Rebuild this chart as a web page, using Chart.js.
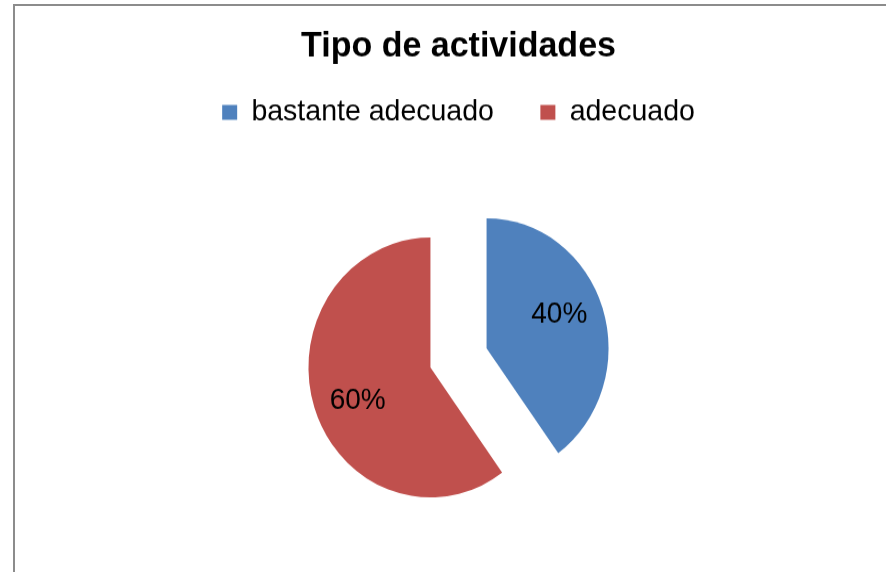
<!DOCTYPE html>
<html lang="es">
<head>
<meta charset="UTF-8">
<title>Tipo de actividades</title>
<script src="https://cdn.jsdelivr.net/npm/chart.js@4.4.0/dist/chart.umd.min.js"></script>
<style>
  html, body { margin: 0; padding: 0; background: #fff; overflow: hidden; width: 886px; height: 572px; }
  .frame { position: absolute; left: 13px; top: 4px; width: 1000px; height: 1000px;
           border-left: 2px solid #8c8c8c; border-top: 2px solid #8c8c8c; }
  /* the original picture is a little stretched vertically */
  .wrap { position: absolute; left: 0; top: 0; transform: scaleY(1.065); transform-origin: 0 0; }
</style>
</head>
<body>
<div class="frame"></div>
<div class="wrap"><canvas id="pie" width="917" height="600"></canvas></div>
<script>
const categories = ['bastante adecuado', 'adecuado'];
const values = [40, 60];

const FONT = '"Liberation Sans", Arial, sans-serif';
const EXPLODE = 29.5;

// pull every slice away from the centre by the same distance (like Excel's explode)
const explodeSlices = {
  id: 'explodeSlices',
  afterDatasetsUpdate(chart) {
    chart.getDatasetMeta(0).data.forEach(arc => {
      const mid = (arc.startAngle + arc.endAngle) / 2;
      arc.x += Math.cos(mid) * EXPLODE;
      arc.y += Math.sin(mid) * EXPLODE;
    });
  }
};

// percentage labels inside each slice
const pctLabels = {
  id: 'pctLabels',
  afterDatasetsDraw(chart) {
    const ctx = chart.ctx;
    const total = values.reduce((a, b) => a + b, 0);
    ctx.save();
    ctx.font = '28px ' + FONT;
    ctx.fillStyle = '#000';
    ctx.textAlign = 'center';
    ctx.textBaseline = 'middle';
    chart.getDatasetMeta(0).data.forEach((arc, i) => {
      const a = (arc.startAngle + arc.endAngle) / 2 - 0.095;
      const d = arc.outerRadius * 0.65;
      ctx.fillText(Math.round(values[i] / total * 100) + '%', arc.x + Math.cos(a) * d, arc.y + Math.sin(a) * d);
    });
    ctx.restore();
  }
};

new Chart(document.getElementById('pie'), {
  type: 'pie',
  data: {
    labels: categories,
    datasets: [{
      data: values,
      backgroundColor: ['#4F81BD', '#C0504D'],
      borderWidth: 0,
      radius: 122
    }]
  },
  options: {
    responsive: false,
    animation: false,
    layout: { padding: { top: 0, bottom: 57.75, left: 0, right: 0 } },
    plugins: {
      title: {
        display: true,
        text: 'Tipo de actividades',
        color: '#000',
        font: { family: FONT, size: 34, weight: 'bold' },
        padding: { top: 23.7, bottom: -19.75 }
      },
      legend: {
        position: 'top',
        labels: {
          color: '#000',
          font: { family: FONT, size: 28.5 },
          boxWidth: 15,
          boxHeight: 14,
          padding: 46.5
        }
      },
      tooltip: { enabled: false }
    }
  },
  plugins: [explodeSlices, pctLabels]
});
</script>
</body>
</html>
